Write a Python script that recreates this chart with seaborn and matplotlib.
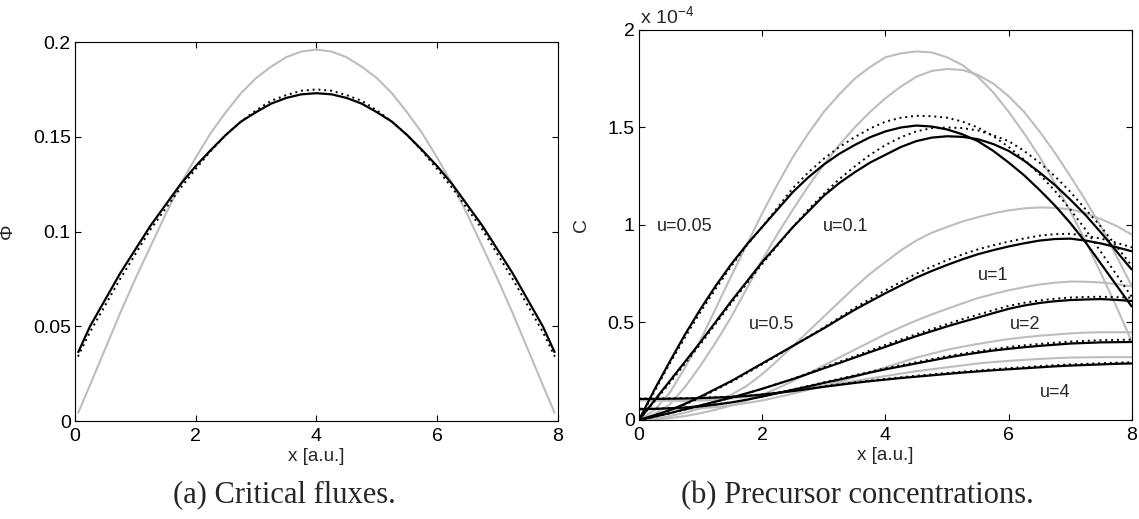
import matplotlib
matplotlib.use("Agg")
import matplotlib.pyplot as plt
import seaborn as sns
import pandas as pd

# -----------------------------
# Data
# -----------------------------
# (a) critical fluxes
x_flux = [0.05, 0.25, 0.5, 0.75, 1.0, 1.25, 1.5, 1.75, 2.0, 2.25, 2.5, 2.75, 3.0, 3.25, 3.5, 3.75, 4.0,
          4.25, 4.5, 4.75, 5.0, 5.25, 5.5, 5.75, 6.0, 6.25, 6.5, 6.75, 7.0, 7.25, 7.5, 7.75, 7.95]
phi_gray = [0.004, 0.019, 0.038, 0.057, 0.075, 0.092, 0.109, 0.125, 0.139, 0.152, 0.163, 0.173, 0.181,
            0.187, 0.192, 0.195, 0.196, 0.195, 0.192, 0.187, 0.181, 0.173, 0.163, 0.152, 0.139,
            0.125, 0.109, 0.092, 0.075, 0.057, 0.038, 0.019, 0.004]
phi_black = [0.036, 0.050, 0.064, 0.078, 0.0905, 0.103, 0.114, 0.125, 0.1345, 0.143, 0.151, 0.158, 0.163,
             0.1675, 0.1705, 0.1724, 0.173, 0.1724, 0.1705, 0.1675, 0.163, 0.158, 0.151, 0.143, 0.1345,
             0.125, 0.114, 0.103, 0.0905, 0.078, 0.064, 0.050, 0.036]
phi_dot = [0.034, 0.047, 0.061, 0.075, 0.088, 0.101, 0.112, 0.123, 0.133, 0.1425, 0.151, 0.158, 0.164,
           0.169, 0.172, 0.1743, 0.175, 0.1743, 0.172, 0.169, 0.164, 0.158, 0.151, 0.1425, 0.133,
           0.123, 0.112, 0.101, 0.088, 0.075, 0.061, 0.047, 0.034]

# (b) precursor concentrations, in units of 1e-4
x_conc = [0.0, 0.25, 0.5, 0.75, 1.0, 1.25, 1.5, 1.75, 2.0, 2.25, 2.5, 2.75, 3.0, 3.25, 3.5, 3.75, 4.0,
          4.25, 4.5, 4.75, 5.0, 5.25, 5.5, 5.75, 6.0, 6.25, 6.5, 6.75, 7.0, 7.25, 7.5, 7.75, 8.0]

gray_u005 = [0.00, 0.05, 0.14, 0.27, 0.41, 0.575, 0.74, 0.90, 1.06, 1.21, 1.35, 1.47, 1.58, 1.67, 1.75,
             1.81, 1.86, 1.88, 1.89, 1.885, 1.86, 1.82, 1.76, 1.68, 1.58, 1.47, 1.35, 1.215, 1.07,
             0.915, 0.75, 0.58, 0.40]
black_u005 = [0.00, 0.155, 0.30, 0.44, 0.57, 0.69, 0.80, 0.90, 0.99, 1.08, 1.17, 1.245, 1.31, 1.365,
              1.41, 1.45, 1.48, 1.50, 1.51, 1.505, 1.49, 1.465, 1.43, 1.38, 1.32, 1.255, 1.18, 1.10,
              1.01, 0.91, 0.80, 0.69, 0.58]
dot_u005 = [0.00, 0.145, 0.29, 0.425, 0.555, 0.675, 0.79, 0.895, 0.99, 1.09, 1.19, 1.27, 1.34, 1.40,
            1.45, 1.495, 1.53, 1.55, 1.56, 1.558, 1.55, 1.53, 1.50, 1.455, 1.40, 1.335, 1.26, 1.175,
            1.08, 0.975, 0.86, 0.745, 0.63]

gray_u01 = [0.00, 0.03, 0.08, 0.17, 0.28, 0.40, 0.53, 0.675, 0.82, 0.955, 1.08, 1.20, 1.31, 1.41, 1.50,
            1.58, 1.65, 1.71, 1.76, 1.79, 1.80, 1.795, 1.77, 1.725, 1.66, 1.58, 1.48, 1.37, 1.25,
            1.125, 0.99, 0.84, 0.685]
black_u01 = [0.00, 0.10, 0.20, 0.30, 0.40, 0.505, 0.61, 0.71, 0.81, 0.90, 0.99, 1.07, 1.15, 1.215, 1.27,
             1.32, 1.36, 1.40, 1.43, 1.448, 1.455, 1.452, 1.44, 1.415, 1.38, 1.33, 1.27, 1.205, 1.13,
             1.05, 0.96, 0.865, 0.77]
dot_u01 = [0.00, 0.095, 0.19, 0.29, 0.39, 0.495, 0.60, 0.70, 0.80, 0.895, 0.99, 1.08, 1.16, 1.235, 1.30,
           1.36, 1.41, 1.45, 1.48, 1.497, 1.50, 1.497, 1.485, 1.46, 1.43, 1.38, 1.32, 1.25, 1.17,
           1.08, 0.99, 0.89, 0.79]

gray_u05 = [0.00, 0.005, 0.02, 0.037, 0.06, 0.09, 0.13, 0.175, 0.235, 0.305, 0.38, 0.455, 0.53, 0.605,
            0.68, 0.75, 0.81, 0.87, 0.92, 0.96, 0.99, 1.018, 1.04, 1.06, 1.075, 1.085, 1.09, 1.088,
            1.08, 1.06, 1.03, 0.995, 0.95]
black_u05 = [0.00, 0.024, 0.05, 0.083, 0.12, 0.16, 0.20, 0.245, 0.29, 0.335, 0.38, 0.425, 0.47, 0.518,
             0.565, 0.608, 0.65, 0.69, 0.73, 0.764, 0.795, 0.824, 0.85, 0.871, 0.89, 0.906, 0.92,
             0.928, 0.93, 0.92, 0.905, 0.886, 0.865]
dot_u05 = [0.00, 0.023, 0.048, 0.08, 0.115, 0.155, 0.195, 0.24, 0.285, 0.332, 0.38, 0.427, 0.475, 0.525,
           0.575, 0.62, 0.665, 0.708, 0.75, 0.786, 0.82, 0.849, 0.875, 0.896, 0.915, 0.931, 0.945,
           0.953, 0.955, 0.945, 0.93, 0.909, 0.885]

gray_u1 = [0.00, 0.003, 0.01, 0.02, 0.035, 0.053, 0.075, 0.10, 0.13, 0.163, 0.20, 0.24, 0.28, 0.32, 0.36,
           0.40, 0.44, 0.476, 0.51, 0.541, 0.57, 0.598, 0.625, 0.646, 0.665, 0.681, 0.695, 0.704,
           0.71, 0.709, 0.705, 0.697, 0.685]
black_u1 = [0.00, 0.017, 0.035, 0.055, 0.075, 0.095, 0.115, 0.137, 0.16, 0.185, 0.21, 0.237, 0.265,
            0.292, 0.32, 0.348, 0.375, 0.403, 0.43, 0.455, 0.48, 0.503, 0.525, 0.548, 0.57, 0.587,
            0.60, 0.609, 0.615, 0.618, 0.62, 0.616, 0.61]
dot_u1 = [0.00, 0.016, 0.034, 0.053, 0.073, 0.093, 0.114, 0.136, 0.16, 0.186, 0.212, 0.24, 0.27, 0.298,
          0.327, 0.356, 0.385, 0.413, 0.44, 0.466, 0.492, 0.517, 0.54, 0.563, 0.585, 0.601, 0.613,
          0.622, 0.628, 0.631, 0.632, 0.63, 0.627]

gray_u2 = [0.06, 0.057, 0.055, 0.056, 0.06, 0.066, 0.075, 0.087, 0.10, 0.117, 0.135, 0.155, 0.175, 0.197,
           0.22, 0.245, 0.27, 0.295, 0.32, 0.34, 0.36, 0.376, 0.39, 0.403, 0.415, 0.424, 0.432,
           0.438, 0.444, 0.448, 0.45, 0.45, 0.45]
black_u2 = [0.055, 0.057, 0.06, 0.064, 0.07, 0.079, 0.09, 0.104, 0.12, 0.137, 0.155, 0.172, 0.19, 0.207,
            0.225, 0.243, 0.26, 0.275, 0.29, 0.305, 0.32, 0.333, 0.345, 0.356, 0.365, 0.373, 0.38,
            0.386, 0.392, 0.395, 0.398, 0.399, 0.40]
dot_u2 = [0.057, 0.058, 0.061, 0.065, 0.071, 0.08, 0.091, 0.105, 0.121, 0.139, 0.157, 0.175, 0.193,
          0.211, 0.229, 0.247, 0.265, 0.281, 0.296, 0.312, 0.327, 0.34, 0.353, 0.364, 0.374, 0.383,
          0.39, 0.396, 0.402, 0.406, 0.409, 0.411, 0.412]

gray_u4 = [0.10, 0.099, 0.098, 0.098, 0.10, 0.104, 0.11, 0.119, 0.13, 0.14, 0.15, 0.162, 0.175, 0.188,
           0.20, 0.213, 0.225, 0.238, 0.25, 0.26, 0.27, 0.28, 0.29, 0.297, 0.303, 0.308, 0.313,
           0.317, 0.32, 0.321, 0.322, 0.322, 0.322]
black_u4 = [0.108, 0.108, 0.109, 0.11, 0.112, 0.115, 0.118, 0.123, 0.13, 0.139, 0.148, 0.159, 0.17,
            0.18, 0.19, 0.199, 0.207, 0.215, 0.222, 0.229, 0.236, 0.243, 0.249, 0.255, 0.26, 0.265,
            0.27, 0.275, 0.279, 0.282, 0.285, 0.288, 0.29]
dot_u4 = [0.11, 0.11, 0.111, 0.112, 0.114, 0.117, 0.12, 0.125, 0.132, 0.141, 0.151, 0.162, 0.173, 0.183,
          0.193, 0.202, 0.211, 0.219, 0.227, 0.234, 0.241, 0.248, 0.254, 0.26, 0.266, 0.271, 0.276,
          0.281, 0.285, 0.288, 0.291, 0.294, 0.296]

u_labels = ["u=0.05", "u=0.1", "u=0.5", "u=1", "u=2", "u=4"]
label_xy = [(0.29, 0.99), (2.98, 0.99), (1.79, 0.49), (5.50, 0.74), (6.02, 0.49), (6.50, 0.14)]

# -----------------------------
# Tidy tables
# -----------------------------
flux = pd.concat([
    pd.DataFrame({"x": x_flux, "Phi": phi_gray, "model": "gray"}),
    pd.DataFrame({"x": x_flux, "Phi": phi_black, "model": "black"}),
    pd.DataFrame({"x": x_flux, "Phi": phi_dot, "model": "dot"}),
])

series = {
    ("gray", "0.05"): gray_u005, ("black", "0.05"): black_u005, ("dot", "0.05"): dot_u005,
    ("gray", "0.1"): gray_u01, ("black", "0.1"): black_u01, ("dot", "0.1"): dot_u01,
    ("gray", "0.5"): gray_u05, ("black", "0.5"): black_u05, ("dot", "0.5"): dot_u05,
    ("gray", "1"): gray_u1, ("black", "1"): black_u1, ("dot", "1"): dot_u1,
    ("gray", "2"): gray_u2, ("black", "2"): black_u2, ("dot", "2"): dot_u2,
    ("gray", "4"): gray_u4, ("black", "4"): black_u4, ("dot", "4"): dot_u4,
}
conc = pd.concat([
    pd.DataFrame({"x": x_conc, "C": vals, "model": m, "u": u})
    for (m, u), vals in series.items()
])

line_style = {
    "gray": dict(color="#bdbdbd", lw=1.5, ls="-"),
    "black": dict(color="black", lw=1.6, ls="-"),
    "dot": dict(color="black", lw=1.4, ls=(0, (1, 2.0))),
}
draw_order = ["gray", "black", "dot"]

# -----------------------------
# Style
# -----------------------------
sns.set_theme(style="ticks")
plt.rcParams["font.family"] = ["Liberation Sans", "DejaVu Sans"]
plt.rcParams["mathtext.fontset"] = "custom"
plt.rcParams["mathtext.rm"] = "Liberation Sans"
plt.rcParams["axes.edgecolor"] = "black"
plt.rcParams["axes.linewidth"] = 0.8
plt.rcParams["xtick.color"] = "black"
plt.rcParams["ytick.color"] = "black"

fig = plt.figure(figsize=(11.39, 5.19), dpi=100)
ax1 = fig.add_axes([0.0658, 0.1888, 0.4240, 0.7302])
ax2 = fig.add_axes([0.5610, 0.1908, 0.4328, 0.7514])


def draw(ax, data, ycol, group_cols):
    for model in draw_order:
        sub_all = data[data["model"] == model]
        for _, sub in sub_all.groupby(group_cols, sort=False):
            st = line_style[model]
            sns.lineplot(data=sub, x="x", y=ycol, ax=ax, color=st["color"],
                         linewidth=st["lw"], legend=False, errorbar=None)
            ax.lines[-1].set_linestyle(st["ls"])
            ax.lines[-1].set_solid_capstyle("butt")


def frame(ax):
    ax.set_xlim(0, 8)
    ax.set_xticks([0, 2, 4, 6, 8])
    ax.tick_params(direction="in", length=4, width=0.8, top=True, right=True,
                   labelsize=14, pad=5)
    ax.tick_params(axis="y", pad=3)
    ax.set_xlabel("x [a.u.]", fontsize=13.5, labelpad=2.5)
    for s in ax.spines.values():
        s.set_visible(True)
        s.set_color("black")


# -----------------------------
# (a) Critical fluxes
# -----------------------------
draw(ax1, flux, "Phi", ["model"])
frame(ax1)
ax1.set_ylim(0, 0.2)
ax1.set_yticks([0, 0.05, 0.1, 0.15, 0.2], ["0", "0.05", "0.1", "0.15", "0.2"])
ax1.set_ylabel("Φ", fontsize=14)
ax1.yaxis.set_label_coords(-0.122, 0.5)

# -----------------------------
# (b) Precursor concentrations
# -----------------------------
draw(ax2, conc, "C", ["u"])
frame(ax2)
ax2.set_ylim(0, 2)
ax2.set_yticks([0, 0.5, 1, 1.5, 2], ["0", "0.5", "1", "1.5", "2"])
ax2.set_ylabel("C", fontsize=14)
ax2.yaxis.set_label_coords(-0.099, 0.5)
ax2.text(0.002, 1.004, r"x 10$^{\mathrm{-4}}$", transform=ax2.transAxes,
         fontsize=14, ha="left", va="bottom")

for lab, (lx, ly) in zip(u_labels, label_xy):
    ax2.text(lx, ly, lab, fontsize=13, ha="left", va="center")

# -----------------------------
# Captions
# -----------------------------
fig.text(284 / 1139, 0.046, "(a) Critical fluxes.", family="Liberation Serif",
         fontsize=22, ha="center", va="center")
fig.text(857 / 1139, 0.046, "(b) Precursor concentrations.", family="Liberation Serif",
         fontsize=22, ha="center", va="center")

fig.savefig("out.png", dpi=100)
plt.close(fig)
